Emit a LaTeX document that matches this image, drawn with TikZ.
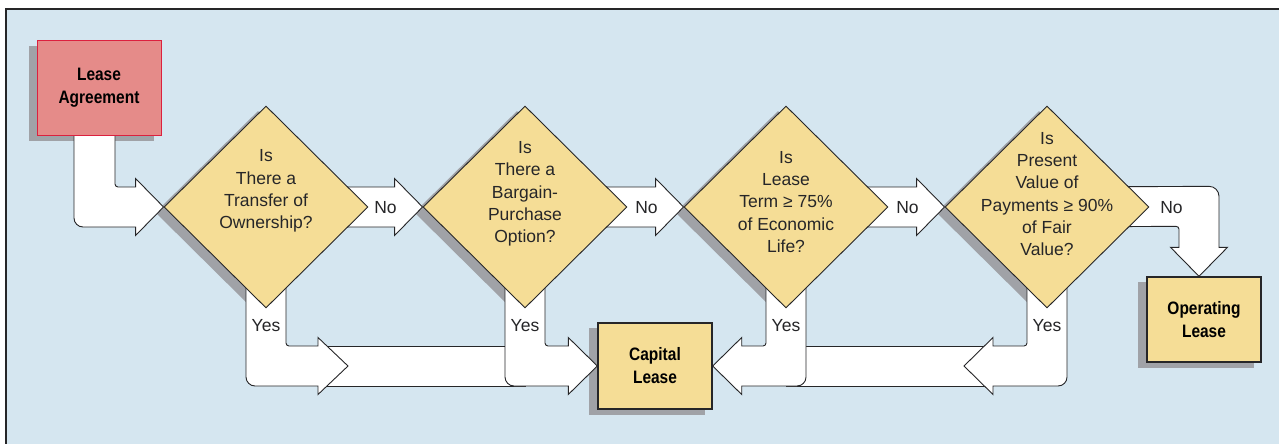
\documentclass[tikz,border=0pt]{standalone}
\usepackage{fontspec}
\setmainfont{Liberation Sans}
\newfontfamily\headfont[FakeStretch=0.86]{Liberation Sans}
\usetikzlibrary{shapes.geometric,calc}
\definecolor{paneblue}{RGB}{213,230,240}
\definecolor{qyellow}{RGB}{245,221,150}
\definecolor{leaserose}{RGB}{229,139,137}
\definecolor{leaseedge}{RGB}{220,32,62}
\definecolor{shadegray}{RGB}{160,162,167}
\definecolor{inkdark}{RGB}{38,38,40}
\pgfdeclarelayer{bg}
\pgfdeclarelayer{shadows}
\pgfdeclarelayer{band}
\pgfsetlayers{bg,shadows,band,main}

\begin{document}
\begin{tikzpicture}[x=1pt,y=-1pt,
  qbox/.style={diamond,draw=inkdark,fill=qyellow,line width=0.9pt,
    minimum width=204,minimum height=202,inner sep=0pt},
  qtxt/.style={align=center,inner sep=0pt,text=inkdark,
    font=\fontsize{17.5}{22.3}\selectfont},
  endbox/.style={draw=inkdark,fill=qyellow,line width=1.4pt,minimum width=114,
    minimum height=86,inner sep=0pt,align=center,text=black,
    font=\headfont\bfseries\fontsize{18}{23}\selectfont},
  startbox/.style={endbox,draw=leaseedge,fill=leaserose,line width=1pt,
    minimum width=124,minimum height=94},
  blk/.style={draw=inkdark,fill=white,line width=0.9pt,line join=miter},
  shd/.style={fill=shadegray},
  lbl/.style={inner sep=0pt,text=inkdark,font=\fontsize{17.5}{21}\selectfont}]
\useasboundingbox (0,0) rectangle (1279,444);
\begin{pgfonlayer}{bg}
\fill[paneblue] (6,9) rectangle (1279,444);
\draw[inkdark,line width=1.5pt] (6,444) -- (6,9) -- (1279,9);
\end{pgfonlayer}
% boxes and questions
\node[startbox] (la) at (99,88) {Lease\\Agreement};
\node[qbox] (q1) at (266,207) {};
\node[qbox] (q2) at (525,207) {};
\node[qbox] (q3) at (786,207) {};
\node[qbox] (q4) at (1047,207) {};
\node[endbox] (cl) at (655,366) {Capital\\Lease};
\node[endbox,minimum height=85] (ol) at (1204,319.5) {Operating\\Lease};
\node[qtxt] (q1t) at ($(q1.center)+(0,-16)$) {Is\\There a\\Transfer of\\Ownership?};
\node[qtxt] (q2t) at ($(q2.center)+(0,-13)$) {Is\\There a\\Bargain-\\Purchase\\Option?};
\node[qtxt] (q3t) at ($(q3.center)+(0,-5)$) {Is\\Lease\\Term ≥ 75\%\\of Economic\\Life?};
\node[qtxt] (q4t) at ($(q4.center)+(0,-13)$) {Is\\Present\\Value of\\Payments ≥ 90\%\\of Fair\\Value?};
\node[lbl] (n1) at ($(q1.east)+(17,1)$) {No};
\node[lbl] (n2) at ($(q2.east)+(19,1)$) {No};
\node[lbl] (n3) at ($(q3.east)+(19,1)$) {No};
\node[lbl] (n4) at ($(q4.east)+(22,1)$) {No};
\foreach \q in {q1,q2,q3,q4}
  \node[lbl] (\q y) at ($(\q.south)+(0,17)$) {Yes};
% drop shadows
\begin{pgfonlayer}{shadows}
\foreach \n in {la,cl,ol}
  \fill[shd] ($(\n.north west)+(-8,5.5)$) rectangle ($(\n.south east)+(-8,5.5)$);
\foreach \n in {q1,q2,q3,q4}
  \fill[shd] ($(\n.north)+(-8,5.5)$) -- ($(\n.east)+(-8,5.5)$)
    -- ($(\n.south)+(-8,5.5)$) -- ($(\n.west)+(-8,5.5)$) -- cycle;
\end{pgfonlayer}
% block arrows
\begin{pgfonlayer}{band}
\coordinate (t1) at ($(q1.center |- cl.west)+(82,0)$);
\coordinate (t4) at ($(q4.center |- cl.east)+(-83,0)$);
\coordinate (olt) at ($(ol.north)+(-5,0)$);
\draw[blk] ($(la.center)+(-25,0)$) [rounded corners=9]
  -- ($(la.center |- q1.center)+(-25,20)$) [sharp corners]
  -- ($(q1.west)+(-28,20)$) -- ++(0,8.5) -- (q1.west) -- ++(-28,-28.5) -- ++(0,8.5)
  [rounded corners=3] -- ($(la.center |- q1.center)+(16,-20)$) [sharp corners]
  -- ($(la.center)+(16,0)$) -- cycle;
\foreach \a/\b in {q1/q2,q2/q3,q3/q4}
  \draw[blk] ($(\a.center)+(0,-20)$) -- ($(\b.west)+(-28,-20)$) -- ++(0,-8.5)
    -- (\b.west) -- ++(-28,28.5) -- ++(0,-8.5) -- ($(\a.center)+(0,20)$) -- cycle;
\draw[blk] ($(q4.center)+(0,-20)$) [rounded corners=10]
  -- ($(olt)+(20,-90)$) [sharp corners]
  -- ($(olt)+(20,-29)$) -- ++(8.5,0) -- (olt) -- ++(-28.5,-29) -- ++(8.5,0)
  [rounded corners=3] -- ($(olt)+(-20,-50)$) [sharp corners]
  -- ($(q4.center)+(0,20)$) -- cycle;
\draw[blk] ($(t1)+(-26,-20)$) rectangle ($(q2.center |- cl.west)+(0,20)$);
\draw[blk] ($(q3.center |- cl.east)+(0,-20)$) rectangle ($(t4)+(25,20)$);
\draw[blk] ($(q1.center)+(-20,0)$) [rounded corners=9]
  -- ($(q1.center |- cl.west)+(-20,20)$) [sharp corners]
  -- ($(t1)+(-30,20)$) -- ++(0,8.5) -- (t1) -- ++(-30,-28.5) -- ++(0,8.5)
  [rounded corners=3] -- ($(q1.center |- cl.west)+(20,-20)$) [sharp corners]
  -- ($(q1.center)+(20,0)$) -- cycle;
\draw[blk] ($(q2.center)+(-20,0)$) [rounded corners=9]
  -- ($(q2.center |- cl.west)+(-20,20)$) [sharp corners]
  -- ($(cl.west)+(-29,20)$) -- ++(0,8.5) -- (cl.west) -- ++(-29,-28.5) -- ++(0,8.5)
  [rounded corners=3] -- ($(q2.center |- cl.west)+(20,-20)$) [sharp corners]
  -- ($(q2.center)+(20,0)$) -- cycle;
\draw[blk] ($(q3.center)+(20,0)$) [rounded corners=9]
  -- ($(q3.center |- cl.east)+(20,20)$) [sharp corners]
  -- ($(cl.east)+(29,20)$) -- ++(0,8.5) -- (cl.east) -- ++(29,-28.5) -- ++(0,8.5)
  [rounded corners=3] -- ($(q3.center |- cl.east)+(-20,-20)$) [sharp corners]
  -- ($(q3.center)+(-20,0)$) -- cycle;
\draw[blk] ($(q4.center)+(20,0)$) [rounded corners=9]
  -- ($(q4.center |- cl.east)+(20,20)$) [sharp corners]
  -- ($(t4)+(29,20)$) -- ++(0,8.5) -- (t4) -- ++(29,-28.5) -- ++(0,8.5)
  [rounded corners=3] -- ($(q4.center |- cl.east)+(-20,-20)$) [sharp corners]
  -- ($(q4.center)+(-20,0)$) -- cycle;
\end{pgfonlayer}
\end{tikzpicture}
\end{document}
